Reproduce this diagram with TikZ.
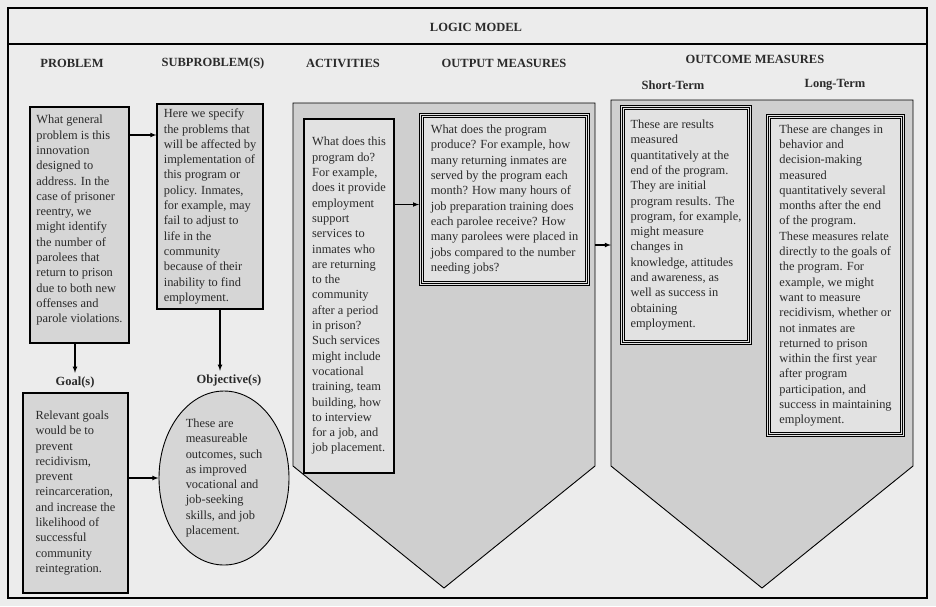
\documentclass[tikz,border=0pt]{standalone}
\usepackage{fontspec}
\setmainfont{Liberation Serif}
\usetikzlibrary{arrows.meta,shapes.geometric}
\definecolor{paper}{HTML}{ECECEC}
\definecolor{ink}{HTML}{2A2A2A}
\definecolor{boxgray}{HTML}{D6D6D6}
\definecolor{panelgray}{HTML}{CFCFCF}
\definecolor{boxlight}{HTML}{E2E2E2}
\tikzset{> = latex, color=ink}
\tikzset{
  head/.style={font=\fontsize{12.5}{14}\selectfont\bfseries},
  box/.style={draw, fill=boxgray, line width=1.1pt, align=left, inner sep=0pt,
    font=\fontsize{12.4}{15.3}\selectfont},
  lightbox/.style={box, fill=boxlight},
  tribox/.style={box, fill=none, line width=.6pt, outer sep=2.4pt,
    preaction={fill=boxlight, draw, line width=.6pt, double=boxlight, double distance=3.4pt}},
  panel/.style={draw, fill=panelgray, line width=.9pt},
  link/.style={->, line width=1.1pt},
}

\begin{document}
\begin{tikzpicture}[x=1pt, y=-1pt]
	\fill[paper] (0,0) rectangle (936,606);
	\useasboundingbox (0,0) rectangle (936,606);
	% frame and title
	\draw[line width=1.2pt] (8,8) rectangle (927,598);
	\draw[line width=1.2pt] (8,44) -- (927,44);
	\node[head] (title) at (476,27) {LOGIC MODEL};
	\node[head] (hprob) at (72,63) {PROBLEM};
	\node[head] (hsub) at (213,63) {SUBPROBLEM(S)};
	\node[head] (hact) at (343,63) {ACTIVITIES};
	\node[head] (hout) at (504,63) {OUTPUT MEASURES};
	\node[head] (houtc) at (755,59) {OUTCOME MEASURES};
	\node[head] (hshort) at (673,85) {Short-Term};
	\node[head] (hlong) at (835,85) {Long-Term};
	% the two arrow panels
	\draw[panel] (293,103) -- (595,103) -- (595,466) -- (444,588) -- (293,466) -- cycle;
	\draw[panel] (611,100) -- (913,100) -- (913,466) -- (762,588) -- (611,466) -- cycle;
	\coordinate (actedge) at (595,245);
	\coordinate (outcedge) at (611,245);
	% left column
	\node[box, minimum width=99pt, minimum height=236pt, text depth=12pt] (prob) at (79.5,225) {What general\\ problem is this\\ innovation\\ designed to\\ address.  In the\\ case of prisoner\\ reentry, we\\ might identify\\ the number of\\ parolees that\\ return to prison\\ due to both new\\ offenses and\\ parole violations.};
	\node[box, minimum width=106pt, minimum height=205pt] (sub) at (210,206.5) {Here we specify\\ the problems that\\ will be affected by\\ implementation of\\ this program or\\ policy.  Inmates,\\ for example, may\\ fail to adjust to\\ life in the\\ community\\ because of their\\ inability to find\\ employment.};
	\node[head] (glab) at (75,382) {Goal(s)};
	\node[head] (olab) at (229,380) {Objective(s)};
	\node[box, minimum width=105pt, minimum height=200pt] (goal) at (75.5,493) {Relevant goals\\ would be to\\ prevent\\ recidivism,\\ prevent\\ reincarceration,\\ and increase the\\ likelihood of\\ successful\\ community\\ reintegration.};
	\node[box, ellipse, line width=.9pt, minimum width=130pt, minimum height=174pt] (obj) at (224,478) {These are\\ measureable\\ outcomes, such\\ as improved\\ vocational and\\ job-seeking\\ skills, and job\\ placement.};
	% panel contents
	\node[lightbox, minimum width=90pt, minimum height=354pt] (act) at (349,296) {What does this\\ program do?\\ For example,\\ does it provide\\ employment\\ support\\ services to\\ inmates who\\ are returning\\ to the\\ community\\ after a period\\ in prison?\\ Such services\\ might include\\ vocational\\ training, team\\ building, how\\ to interview\\ for a job, and\\ job placement.};
	\node[tribox, minimum width=166pt, minimum height=168pt] (out) at (504.5,199.5) {What does the program\\ produce?  For example, how\\ many returning inmates are\\ served by the program each\\ month?  How many hours of\\ job preparation training does\\ each parolee receive?  How\\ many parolees were placed in\\ jobs compared to the number\\ needing jobs?};
	\node[tribox, minimum width=127pt, minimum height=235pt] (short) at (686,225) {These are results\\ measured\\ quantitatively at the\\ end of the program.\\ They are initial\\ program results.  The\\ program, for example,\\ might measure\\ changes in\\ knowledge, attitudes\\ and awareness, as\\ well as success in\\ obtaining\\ employment.};
	\node[tribox, minimum width=134pt, minimum height=318pt] (long) at (835.5,275.5) {These are changes in\\ behavior and\\ decision-making\\ measured\\ quantitatively several\\ months after the end\\ of the program.\\ These measures relate\\ directly to the goals of\\ the program.  For\\ example, we might\\ want to measure\\ recidivism, whether or\\ not inmates are\\ returned to prison\\ within the first year\\ after program\\ participation, and\\ success in maintaining\\ employment.};
	% connectors
	\draw[link] ([yshift=90pt]prob.east) -- ([yshift=90pt]prob.east -| sub.west);
	\draw[link] (prob.south -| glab) -- (glab.north);
	\draw[link] ([xshift=10pt]sub.south) -- ([xshift=10pt]sub.south |- olab.north);
	\draw[link] (goal.east |- obj.west) -- (obj.west);
	\draw[link] ([yshift=-5pt]act.east |- out.west) -- ([yshift=-5pt]out.west);
	\draw[link] (actedge) -- (outcedge);
\end{tikzpicture}
\end{document}
